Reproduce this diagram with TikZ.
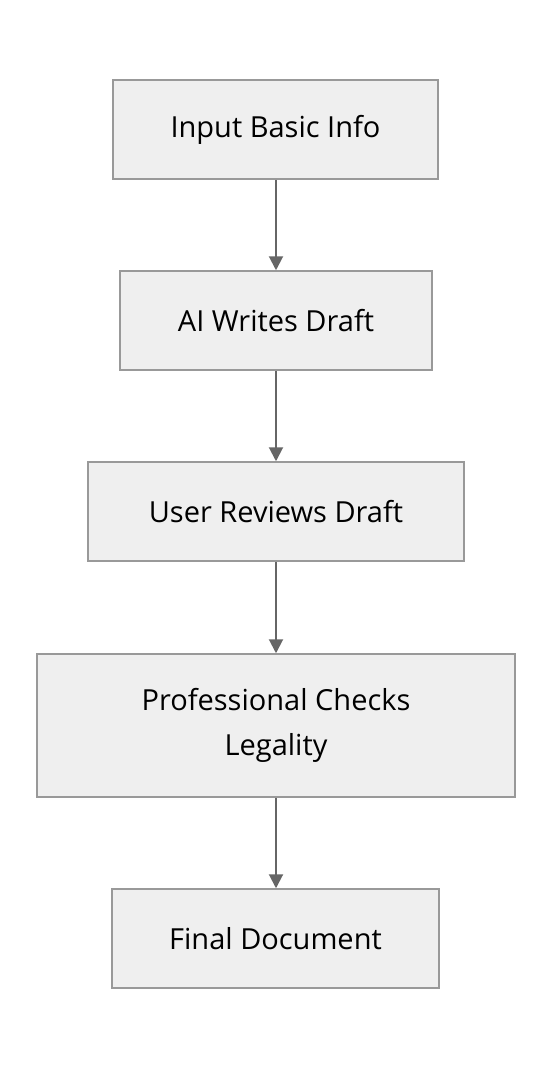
\documentclass[tikz,border=0pt]{standalone}
\usepackage{fontspec}
\setmainfont{Open Sans}
\usetikzlibrary{arrows.meta}
\definecolor{boxfill}{HTML}{EFEFEF}
\definecolor{boxline}{HTML}{999999}
\definecolor{arrowc}{HTML}{666666}
\tikzset{
  stepbox/.style={draw=boxline, fill=boxfill, line width=1.5pt, inner sep=0pt,
    align=center, font=\fontsize{29}{45}\selectfont, text=black},
  flow/.style={draw=arrowc, line width=2pt, -{Triangle[length=14pt,width=14pt]}}
}
\begin{document}
\begin{tikzpicture}[x=1pt,y=-1pt]
\useasboundingbox (0,0) rectangle (552,1068);
\node[stepbox, minimum width=325pt, minimum height=99pt] (a) at (275.5,129.5) {Input Basic Info};
\node[stepbox, minimum width=312pt, minimum height=99pt] (b) at (276,320.5) {AI Writes Draft};
\node[stepbox, minimum width=376pt, minimum height=99pt] (c) at (276,511.5) {User Reviews Draft};
\node[stepbox, minimum width=478pt, minimum height=143pt] (d) at (276,725.5) {Professional Checks\\Legality};
\node[stepbox, minimum width=327pt, minimum height=99pt] (e) at (275.5,938.5) {Final Document};
\draw[flow] (a.south -| 276,0) -- (b.north -| 276,0);
\draw[flow] (b) -- (c);
\draw[flow] (c) -- (d);
\draw[flow] (d.south -| 276,0) -- (e.north -| 276,0);
\end{tikzpicture}
\end{document}
